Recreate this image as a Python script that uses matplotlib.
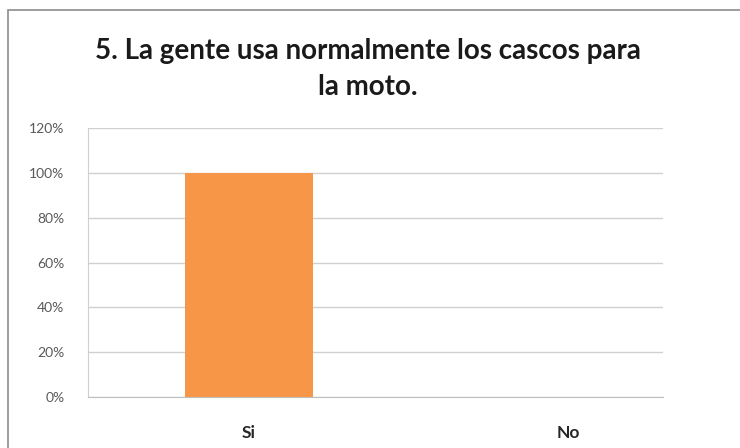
import matplotlib
matplotlib.use('Agg')
import matplotlib.pyplot as plt
from matplotlib.patches import Rectangle
from matplotlib.ticker import PercentFormatter

categories = ['Si', 'No']
values = [1.0, 0.0]
yticks = [0, 0.2, 0.4, 0.6, 0.8, 1.0, 1.2]
title = '5. La gente usa normalmente los cascos para\nla moto.'

plt.rcParams['font.family'] = ['Lato', 'DejaVu Sans']

fig = plt.figure(figsize=(7.4, 4.48), dpi=100)
# outer chart border
fig.patches.append(Rectangle((8/740, -0.1), 1.0, 1 - 10/448 + 0.1, transform=fig.transFigure,
                             fill=False, edgecolor='#8c8c8c', linewidth=1.2))

ax = fig.add_axes([88/740, 1 - 397/448, 575/740, 269/448])
x = list(range(len(categories)))
ax.bar(x, values, width=0.40, color='#F79646', zorder=3)

ax.set_xlim(-0.505, 1.298)
ax.set_ylim(0, 1.2)
ax.set_yticks(yticks)
ax.yaxis.set_major_formatter(PercentFormatter(1.0, decimals=0))
ax.set_xticks(x)
ax.set_xticklabels(categories, fontsize=12.5, fontweight='bold', color='#262626')
ax.tick_params(axis='y', labelsize=10, colors='#595959', length=0, pad=17)
ax.tick_params(axis='x', length=0, pad=20)
ax.grid(axis='y', color='#d0d0d0', linewidth=1, zorder=0)

for s in ['top', 'right']:
    ax.spines[s].set_visible(False)
ax.spines['left'].set_color('#d0d0d0')
ax.spines['bottom'].set_color('#bfbfbf')

fig.text(0.497, 1 - 69/448, title, ha='center', va='center', fontsize=20,
         fontweight='bold', color='#1a1a1a', linespacing=1.5)

fig.savefig('out.png', dpi=100)
